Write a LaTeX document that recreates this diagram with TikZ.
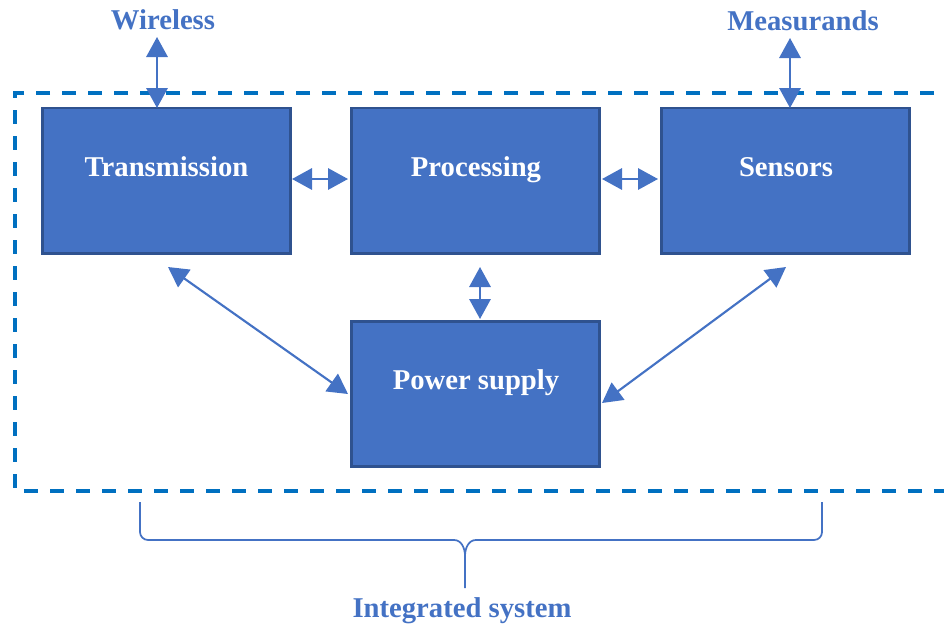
\documentclass[tikz,border=0pt]{standalone}
\usepackage{fontspec}
\setmainfont{Liberation Serif}
\usetikzlibrary{arrows.meta}
\definecolor{blockfill}{HTML}{4472C4}
\definecolor{blockedge}{HTML}{2F528F}
\definecolor{frameblue}{HTML}{0070C0}
\definecolor{linkblue}{HTML}{4472C4}
\tikzset{
  block/.style={draw=blockedge, fill=blockfill, line width=2pt,
    minimum width=186pt, minimum height=109pt, inner sep=0pt},
  blocktext/.style={text=white, font=\fontsize{21.5}{26}\selectfont\bfseries,
    inner sep=0pt, anchor=base},
  labeltext/.style={text=linkblue, font=\fontsize{21.5}{26}\selectfont\bfseries,
    inner sep=0pt, anchor=base},
  link/.style={draw=linkblue, line width=1.6pt,
    {Triangle[length=15pt,width=16pt]}-{Triangle[length=15pt,width=16pt]}},
  frame/.style={draw=frameblue, line width=2.7pt, dash pattern=on 10.5pt off 9pt},
  bracket/.style={draw=linkblue, line width=1.3pt}
}
\begin{document}
\begin{tikzpicture}[x=0.75pt, y=-0.75pt]
  \useasboundingbox (0,0) rectangle (944,628);
  \clip (0,0) rectangle (944,628);

  % system boundary (open past the right edge)
  \draw[frame] (960,93) -- (15,93) -- (15,491) -- (960,491);

  % functional blocks
  \node[block] (trans) at (166.5,180.5) {};
  \node[block] (proc)  at (475.5,180.5) {};
  \node[block] (sens)  at (785.5,180.5) {};
  \node[block] (power) at (475.5,394)   {};

  \node[blocktext] (transT) at (166.5,176) {Transmission};
  \node[blocktext] (procT)  at (476,176)   {Processing};
  \node[blocktext] (sensT)  at (786,176)   {Sensors};
  \node[blocktext] (powerT) at (476,389)   {Power supply};

  % external labels
  \node[labeltext] (wireless)   at (163,29)  {Wireless};
  \node[labeltext] (measurands) at (803,30)  {Measurands};
  \node[labeltext] (system)     at (462,617) {Integrated system};

  % connector end points
  \coordinate (wTop) at (157,37);
  \coordinate (wBot) at (157,108);
  \coordinate (mTop) at (790,38);
  \coordinate (mBot) at (790,108);
  \coordinate (tpL) at (292,179);
  \coordinate (tpR) at (348,179);
  \coordinate (psL) at (602,179);
  \coordinate (psR) at (658,179);
  \coordinate (ppT) at (480,267);
  \coordinate (ppB) at (480,319);
  \coordinate (tA) at (168,267);
  \coordinate (tB) at (348,394);
  \coordinate (sA) at (786,267);
  \coordinate (sB) at (602,403);

  \draw[link] (wTop) -- (wBot);
  \draw[link] (mTop) -- (mBot);
  \draw[link] (tpL) -- (tpR);
  \draw[link] (psL) -- (psR);
  \draw[link] (ppT) -- (ppB);
  \draw[link] (tA) -- (tB);
  \draw[link] (sA) -- (sB);

  % curly brace under the system boundary
  \coordinate (bL) at (140,502);
  \coordinate (bR) at (822,502);
  \coordinate (bTip) at (465,588);
  \draw[bracket] (bL) -- (140,532) to[out=-90,in=180] (148,540)
    -- (454,540) to[out=0,in=90] (465,556) -- (bTip);
  \draw[bracket] (bR) -- (822,532) to[out=-90,in=0] (814,540)
    -- (476,540) to[out=180,in=90] (465,556);
\end{tikzpicture}
\end{document}
